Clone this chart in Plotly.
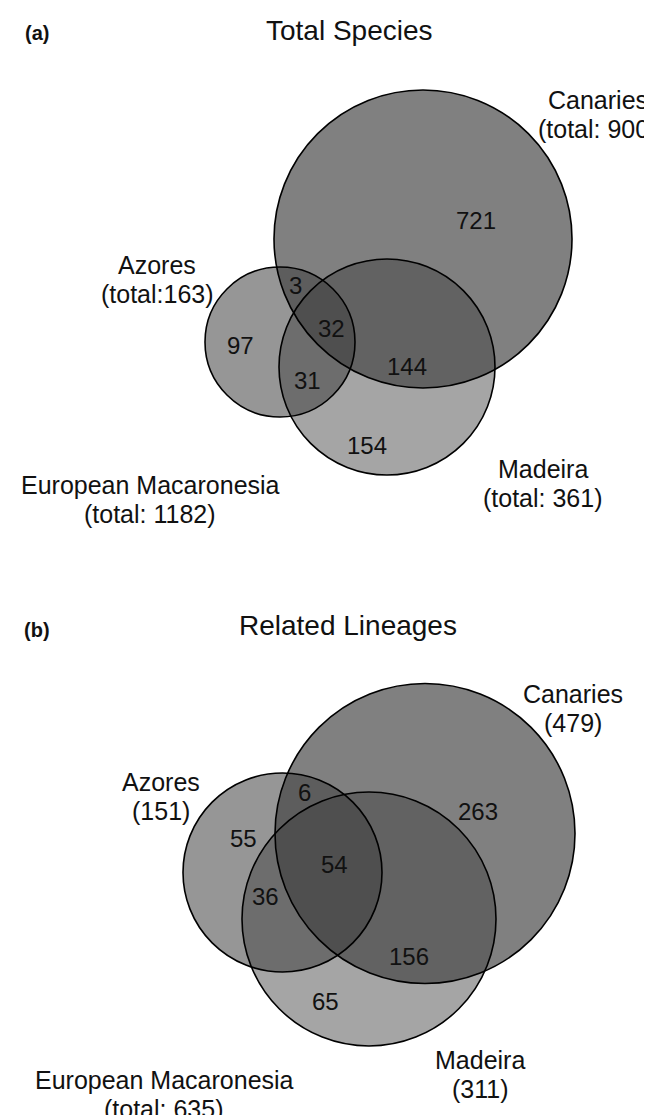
import plotly.graph_objects as go

# ---------------- data ----------------
panel_tags = ["(a)", "(b)"]
panel_titles = ["Total Species", "Related Lineages"]
set_names = ["Canaries", "Azores", "Madeira"]
region_keys = ["C", "A", "M", "CA", "CM", "AM", "CAM"]
counts_a = [721, 97, 154, 3, 144, 31, 32]
counts_b = [263, 55, 65, 6, 156, 36, 54]
totals_a = [900, 163, 361]
totals_b = [479, 151, 311]
overall_name = "European Macaronesia"
overall_a = 1182
overall_b = 635
total_fmt_a = ["(total: {})", "(total:{})", "(total: {})"]
total_fmt_b = ["({})", "({})", "({})"]
overall_fmt = "(total: {})"

# ---------------- layout geometry (pixels) ----------------
W, H = 652, 1115
FONT = "Arial, Liberation Sans, Helvetica, sans-serif"

panels = [
    dict(
        tag_xy=(29, 25), title_xy=(341, 22),
        circles={"C": (415, 231, 149), "A": (272, 334, 75), "M": (379, 359, 108)},
        region_xy={"C": (468, 212), "A": (232, 337), "M": (359, 437), "CA": (287, 277),
                   "CM": (399, 358), "AM": (299, 372), "CAM": (323, 320)},
        label_xy={"C": (590, 92), "A": (149, 257), "M": (535, 461)},
        overall_xy=(142, 477),
        counts=counts_a, totals=totals_a, fmt=total_fmt_a, overall=overall_a,
    ),
    dict(
        tag_xy=(29, 622), title_xy=(340, 617),
        circles={"C": (417, 825.5, 150), "A": (274.5, 864.5, 99.5), "M": (361, 911, 127)},
        region_xy={"C": (470, 803), "A": (235, 830), "M": (317, 993), "CA": (296, 784),
                   "CM": (401, 948), "AM": (257, 888), "CAM": (326, 856)},
        label_xy={"C": (565, 686), "A": (153, 774), "M": (472, 1052)},
        overall_xy=(156, 1072),
        counts=counts_b, totals=totals_b, fmt=total_fmt_b, overall=overall_b,
    ),
]

fill = {"C": "rgba(64,64,64,0.665)", "A": "rgba(64,64,64,0.55)", "M": "rgba(64,64,64,0.47)"}
key_of = {"Canaries": "C", "Azores": "A", "Madeira": "M"}

fig = go.Figure()
fig.add_trace(go.Scatter(x=[0, W], y=[0, H], mode="markers",
                         marker=dict(opacity=0), hoverinfo="skip", showlegend=False))

shapes, annotations = [], []
for p in panels:
    # fills first
    for k in ["C", "A", "M"]:
        cx, cy, r = p["circles"][k]
        shapes.append(dict(type="circle", xref="x", yref="y", x0=cx - r, x1=cx + r,
                           y0=cy - r, y1=cy + r, fillcolor=fill[k],
                           line=dict(width=0), layer="above"))
    # outlines on top
    for k in ["C", "A", "M"]:
        cx, cy, r = p["circles"][k]
        shapes.append(dict(type="circle", xref="x", yref="y", x0=cx - r, x1=cx + r,
                           y0=cy - r, y1=cy + r, fillcolor="rgba(0,0,0,0)",
                           line=dict(width=1.6, color="black"), layer="above"))
    # region counts
    for key, val in zip(region_keys, p["counts"]):
        x, y = p["region_xy"][key]
        annotations.append(dict(x=x, y=y, xref="x", yref="y", text=str(val), showarrow=False,
                                font=dict(size=24, family=FONT, color="#111"),
                                xanchor="center", yanchor="middle"))
    # set labels
    for name, tot, fmt in zip(set_names, p["totals"], p["fmt"]):
        x, y = p["label_xy"][key_of[name]]
        annotations.append(dict(x=x, y=y, xref="x", yref="y", text=name, showarrow=False,
                                font=dict(size=25, family=FONT, color="#111"),
                                xanchor="center", yanchor="middle"))
        annotations.append(dict(x=x, y=y + 29, xref="x", yref="y", text=fmt.format(tot),
                                showarrow=False, font=dict(size=25, family=FONT, color="#111"),
                                xanchor="center", yanchor="middle"))
    ox, oy = p["overall_xy"]
    annotations.append(dict(x=ox, y=oy, xref="x", yref="y", text=overall_name, showarrow=False,
                            font=dict(size=25, family=FONT, color="#111"),
                            xanchor="center", yanchor="middle"))
    annotations.append(dict(x=ox, y=oy + 29, xref="x", yref="y",
                            text=overall_fmt.format(p["overall"]), showarrow=False,
                            font=dict(size=25, family=FONT, color="#111"),
                            xanchor="center", yanchor="middle"))

for p, tag, title in zip(panels, panel_tags, panel_titles):
    tx, ty = p["tag_xy"]
    annotations.append(dict(x=tx, y=ty, xref="x", yref="y", text="<b>" + tag + "</b>",
                            showarrow=False, font=dict(size=20, family=FONT, color="#111"),
                            xanchor="center", yanchor="middle"))
    hx, hy = p["title_xy"]
    annotations.append(dict(x=hx, y=hy, xref="x", yref="y", text=title, showarrow=False,
                            font=dict(size=28, family=FONT, color="#111"),
                            xanchor="center", yanchor="middle"))

fig.update_layout(
    width=W, height=H, margin=dict(l=0, r=0, t=0, b=0),
    paper_bgcolor="white", plot_bgcolor="white",
    xaxis=dict(range=[0, W], visible=False, fixedrange=True),
    yaxis=dict(range=[H, 0], visible=False, fixedrange=True),
    shapes=shapes, annotations=annotations, showlegend=False,
)
fig.write_html("out.html")
